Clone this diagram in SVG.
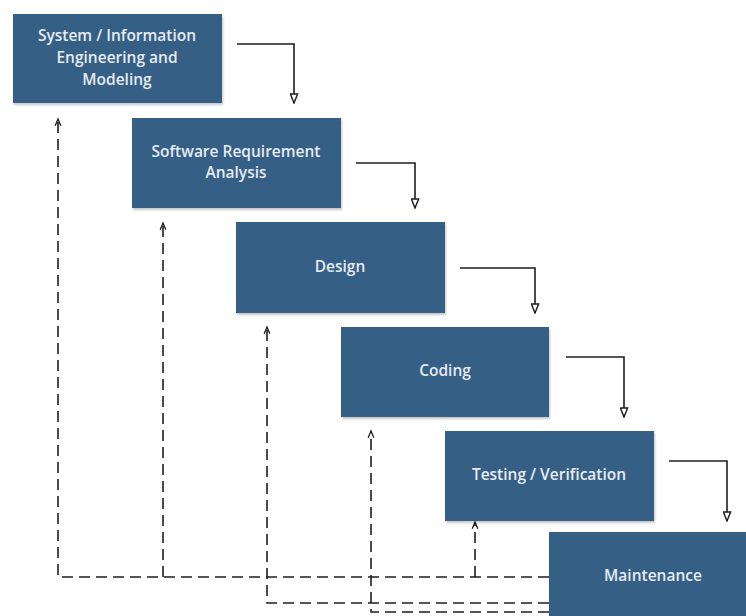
<svg xmlns="http://www.w3.org/2000/svg" width="746" height="616" viewBox="0 0 746 616">
  <style>
    .box { fill: #365f85; filter: url(#shadow); }
    .label { font-family: "Open Sans", "Liberation Sans", sans-serif; font-size: 15.5px; font-weight: 600; fill: #e6ecf2; text-anchor: middle; }
    .flow { fill: none; stroke: #1e1e1e; stroke-width: 1.6; }
    .back { fill: none; stroke: #1e1e1e; stroke-width: 1.6; stroke-dasharray: 11 6; }
  </style>
  <defs>
    <filter id="shadow" x="-10%" y="-10%" width="130%" height="130%">
      <feDropShadow dx="1" dy="2" stdDeviation="1.2" flood-color="#000" flood-opacity="0.22"/>
    </filter>
    <marker id="tri" viewBox="0 0 10 12" refX="5" refY="11" markerWidth="9" markerHeight="11" markerUnits="userSpaceOnUse" orient="0">
      <path d="M1,1 L9,1 L5,11 Z" fill="#fff" stroke="#1e1e1e" stroke-width="1.6"/>
    </marker>
    <marker id="chev" viewBox="0 0 10 10" refX="5" refY="1" markerWidth="8" markerHeight="10" markerUnits="userSpaceOnUse" orient="0">
      <path d="M1.5,9.5 L5,1 L8.5,9.5" fill="none" stroke="#1e1e1e" stroke-width="1.6"/>
    </marker>
  </defs>

  <g id="connectors">
    <!-- forward flow between stages -->
    <polyline class="flow" points="237,44 294,44 294,103" marker-end="url(#tri)"/>
    <polyline class="flow" points="356,163 415,163 415,208" marker-end="url(#tri)"/>
    <polyline class="flow" points="460,268 535,268 535,313" marker-end="url(#tri)"/>
    <polyline class="flow" points="566,357 624,357 624,417" marker-end="url(#tri)"/>
    <polyline class="flow" points="669,461 727,461 727,521" marker-end="url(#tri)"/>

    <!-- feedback from maintenance -->
    <path class="back" d="M549,577 L58,577 L58,119" marker-end="url(#chev)"/>
    <path class="back" d="M163,577 L163,223" marker-end="url(#chev)"/>
    <path class="back" d="M475,577 L475,522" marker-end="url(#chev)"/>
    <path class="back" d="M549,603 L267,603 L267,327" marker-end="url(#chev)"/>
    <path class="back" d="M549,612 L371,612 L371,431" marker-end="url(#chev)"/>
  </g>

  <g id="system-engineering">
    <rect class="box" x="13" y="14" width="209" height="89"/>
    <text class="label" x="117" y="41">System / Information</text>
    <text class="label" x="117" y="63">Engineering and</text>
    <text class="label" x="117" y="85">Modeling</text>
  </g>

  <g id="requirement-analysis">
    <rect class="box" x="132" y="118" width="209" height="90"/>
    <text class="label" x="236" y="157">Software Requirement</text>
    <text class="label" x="236" y="178">Analysis</text>
  </g>

  <g id="design">
    <rect class="box" x="236" y="222" width="209" height="91"/>
    <text class="label" x="340" y="272">Design</text>
  </g>

  <g id="coding">
    <rect class="box" x="341" y="327" width="208" height="90"/>
    <text class="label" x="445" y="376">Coding</text>
  </g>

  <g id="testing">
    <rect class="box" x="445" y="431" width="209" height="90"/>
    <text class="label" x="549" y="480">Testing / Verification</text>
  </g>

  <g id="maintenance">
    <rect class="box" x="549" y="532" width="209" height="92"/>
    <text class="label" x="653" y="581">Maintenance</text>
  </g>
</svg>
